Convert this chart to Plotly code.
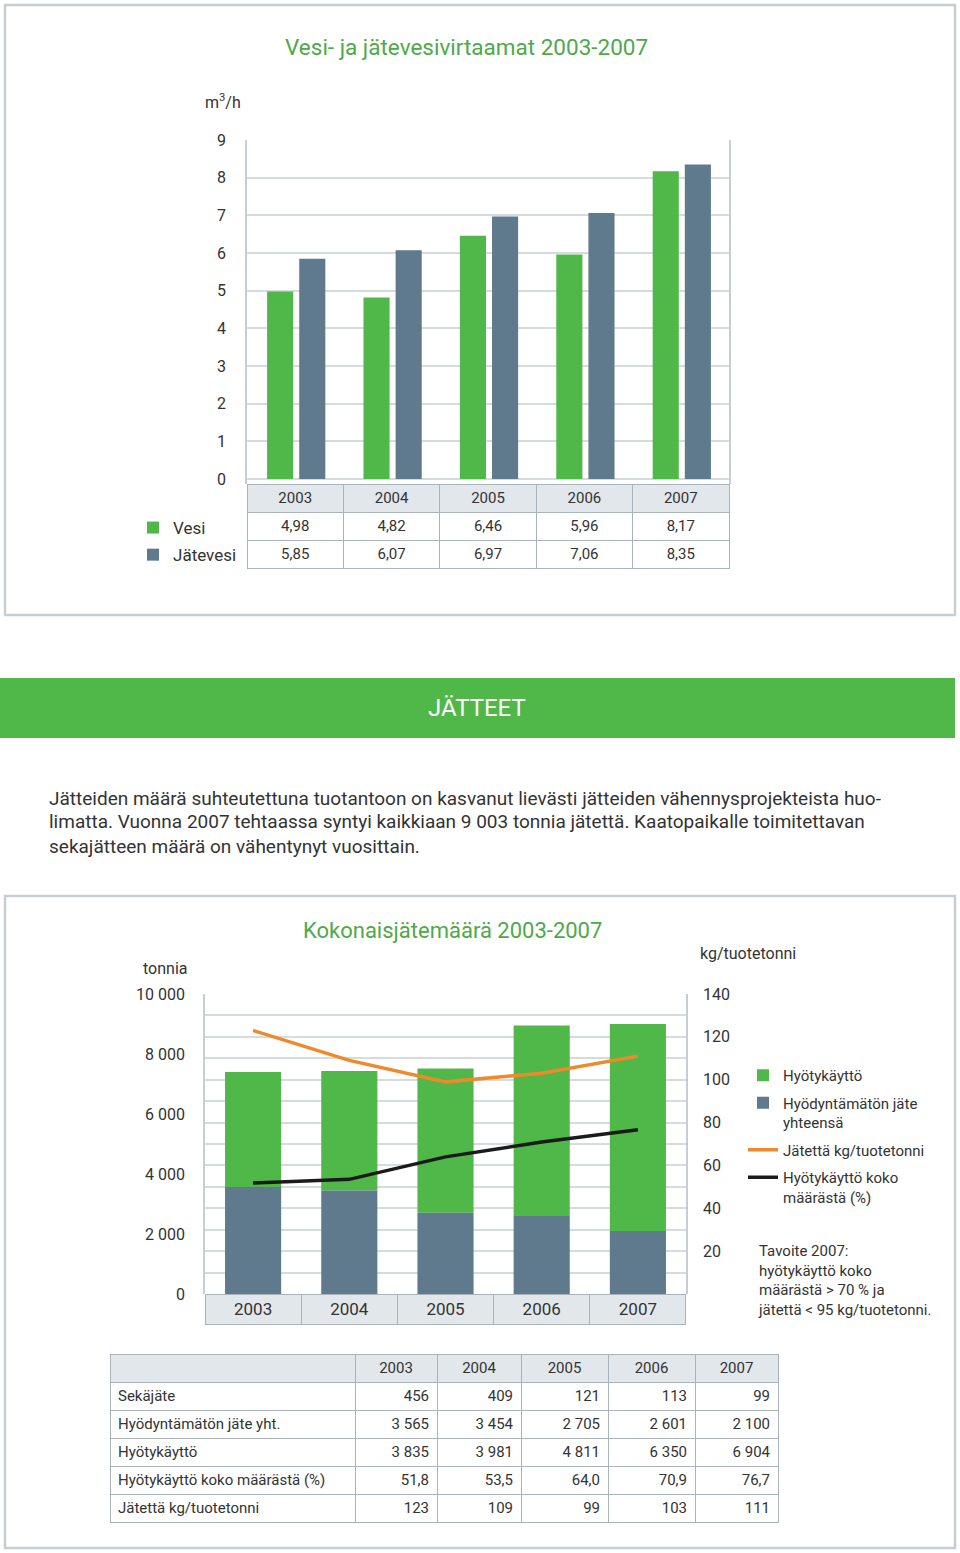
import plotly.graph_objects as go

# ---------------- data ----------------
years = ["2003", "2004", "2005", "2006", "2007"]
vesi = [4.98, 4.82, 6.46, 5.96, 8.17]
jatevesi = [5.85, 6.07, 6.97, 7.06, 8.35]

sekajate = [456, 409, 121, 113, 99]
hyodyntamaton = [3565, 3454, 2705, 2601, 2100]
hyotykaytto = [3835, 3981, 4811, 6350, 6904]
hyoty_pct = [51.8, 53.5, 64.0, 70.9, 76.7]
jatetta_kg = [123, 109, 99, 103, 111]

top_yticks = list(range(0, 10))
left_yticks = [0, 2000, 4000, 6000, 8000, 10000]
right_yticks = [20, 40, 60, 80, 100, 120, 140]

paragraph = [
    "Jätteiden määrä suhteutettuna tuotantoon on kasvanut lievästi jätteiden vähennysprojekteista huo-",
    "limatta. Vuonna 2007 tehtaassa syntyi kaikkiaan 9 003 tonnia jätettä. Kaatopaikalle toimitettavan",
    "sekajätteen määrä on vähentynyt vuosittain.",
]

# ---------------- style ----------------
W, H = 960, 1553
FONT = "Roboto"
GREEN = "#50b848"
TITLE_GREEN = "#4ea94a"
SLATE = "#5f798d"
ORANGE = "#ee8a2b"
BLACK = "#1b1b1b"
TXT = "#333333"
GRID = "#d6dbe0"
FRAME = "#c6cdd4"
TBL_LINE = "#a9b3bb"
TBL_HEAD = "#e2e7eb"


def fx(x):
    return x / W


def fy(y):
    return 1 - y / H


def fmt_int(v):
    return f"{v:,}".replace(",", " ")


def fmt_dec(v, n):
    return f"{v:.{n}f}".replace(".", ",")


fig = go.Figure()

# ---------- top chart ----------
fig.add_trace(go.Bar(x=years, y=vesi, name="Vesi", marker_color=GREEN,
                     offset=-28 / 96, width=26 / 96, xaxis="x", yaxis="y",
                     legend="legend", legendgroup="a", opacity=1))
fig.add_trace(go.Bar(x=years, y=jatevesi, name="Jätevesi", marker_color=SLATE,
                     offset=4 / 96, width=26 / 96, xaxis="x", yaxis="y",
                     legend="legend", legendgroup="b", opacity=1))

fig.add_trace(go.Table(
    domain=dict(x=[fx(247), fx(729)], y=[fy(575), fy(484)]),
    header=dict(values=years, fill_color=TBL_HEAD, line_color=TBL_LINE,
                height=28, align="center", font=dict(family=FONT, size=15, color=TXT)),
    cells=dict(values=[[fmt_dec(a, 2), fmt_dec(b, 2)] for a, b in zip(vesi, jatevesi)],
               fill_color="white", line_color=TBL_LINE, height=28, align="center",
               font=dict(family=FONT, size=15, color=TXT)),
))

# ---------- bottom chart ----------
fig.add_trace(go.Bar(x=years, y=hyotykaytto, base=hyodyntamaton, name="Hyötykäyttö",
                     marker_color=GREEN, offset=-28 / 96, width=56 / 96,
                     xaxis="x2", yaxis="y2", legend="legend2", legendgroup="c", opacity=1))
fig.add_trace(go.Bar(x=years, y=hyodyntamaton, name="Hyödyntämätön jäte<br>yhteensä",
                     marker_color=SLATE, offset=-28 / 96, width=56 / 96,
                     xaxis="x2", yaxis="y2", legend="legend2", legendgroup="d", opacity=1))
fig.add_trace(go.Scatter(x=years, y=jatetta_kg, name="Jätettä kg/tuotetonni", mode="lines",
                         line=dict(color=ORANGE, width=3.5), xaxis="x2", yaxis="y3",
                         legend="legend2", legendgroup="e"))
fig.add_trace(go.Scatter(x=years, y=hyoty_pct, name="Hyötykäyttö koko<br>määrästä (%)", mode="lines",
                         line=dict(color=BLACK, width=3.5), xaxis="x2", yaxis="y3",
                         legend="legend2", legendgroup="f"))

fig.add_trace(go.Table(
    domain=dict(x=[fx(205), fx(686)], y=[fy(1340), fy(1294)]),
    header=dict(values=years, fill_color=TBL_HEAD, line_color=TBL_LINE,
                height=30, align="center", font=dict(family=FONT, size=17, color=TXT)),
    cells=dict(values=[[] for _ in years], height=0),
))

# ---------- bottom table ----------
row_labels = ["Sekäjäte", "Hyödyntämätön jäte yht.", "Hyötykäyttö",
              "Hyötykäyttö koko määrästä (%)", "Jätettä kg/tuotetonni"]
cols = [row_labels]
for i in range(len(years)):
    cols.append([fmt_int(sekajate[i]), fmt_int(hyodyntamaton[i]), fmt_int(hyotykaytto[i]),
                 fmt_dec(hyoty_pct[i], 1), fmt_int(jatetta_kg[i])])
fig.add_trace(go.Table(
    domain=dict(x=[fx(110), fx(778)], y=[fy(1530), fy(1354)]),
    columnwidth=[245, 82, 84, 87, 87, 83],
    header=dict(values=[""] + years, fill_color=TBL_HEAD, line_color=TBL_LINE, height=28,
                align=["left"] + ["center"] * 5, font=dict(family=FONT, size=15, color=TXT)),
    cells=dict(values=cols, fill_color="white", line_color=TBL_LINE, height=28,
               align=["left"] + ["right"] * 5, font=dict(family=FONT, size=15, color=TXT)),
))

axis_font = dict(family=FONT, size=16, color=TXT)

fig.update_layout(
    template="none",
    width=W, height=H, autosize=False,
    margin=dict(l=0, r=0, t=0, b=0, pad=0, autoexpand=False),
    paper_bgcolor="white", plot_bgcolor="white",
    barmode="overlay", separators=", ",
    font=dict(family=FONT, color=TXT),
    xaxis=dict(type="category", domain=[fx(247), fx(729)], anchor="y", range=[-0.5, 4.5],
               automargin=False, showticklabels=False, showgrid=False, zeroline=False,
               showline=False),
    yaxis=dict(domain=[fy(484), fy(140)], anchor="x", range=[-0.133, 9], automargin=False,
               tickvals=top_yticks, showgrid=True, gridcolor=GRID, gridwidth=1.5,
               zeroline=False, showline=True, mirror=True, linecolor=FRAME, linewidth=1.5,
               ticks="outside", ticklen=16, tickcolor="rgba(0,0,0,0)", tickfont=axis_font),
    xaxis2=dict(type="category", domain=[fx(205), fx(686)], anchor="y2", range=[-0.5, 4.5],
                automargin=False, showticklabels=False, showgrid=False, zeroline=False,
                showline=False),
    yaxis2=dict(domain=[fy(1294), fy(994)], anchor="x2", range=[0, 10000], automargin=False,
                tickvals=left_yticks, tickformat=",d", showgrid=False, zeroline=False,
                showline=True, linecolor=FRAME, linewidth=1.5,
                ticks="outside", ticklen=15, tickcolor="rgba(0,0,0,0)", tickfont=axis_font),
    yaxis3=dict(overlaying="y2", side="right", anchor="x2", range=[0, 140], automargin=False,
                tickvals=right_yticks, showgrid=True, gridcolor=GRID, gridwidth=1.5,
                minor=dict(tick0=0, dtick=10, showgrid=True, gridcolor=GRID, gridwidth=1.5),
                zeroline=False, showline=True, linecolor=FRAME, linewidth=1.5,
                ticks="outside", ticklen=12, tickcolor="rgba(0,0,0,0)", tickfont=axis_font),
    legend=dict(x=fx(133), y=fy(510), xanchor="left", yanchor="top",
                font=dict(family=FONT, size=17, color=TXT), tracegroupgap=2,
                bgcolor="rgba(0,0,0,0)", borderwidth=0),
    legend2=dict(x=fx(743), y=fy(1059), xanchor="left", yanchor="top",
                 font=dict(family=FONT, size=15, color=TXT), tracegroupgap=5,
                 bgcolor="rgba(0,0,0,0)", borderwidth=0, valign="top"),
    showlegend=True,
)

shapes = [
    dict(type="rect", xref="paper", yref="paper", x0=fx(5), x1=fx(955), y0=fy(615), y1=fy(5),
         line=dict(color=FRAME, width=2.5), layer="below"),
    dict(type="rect", xref="paper", yref="paper", x0=fx(5), x1=fx(955), y0=fy(1548), y1=fy(896),
         line=dict(color=FRAME, width=2.5), layer="below"),
    dict(type="rect", xref="paper", yref="paper", x0=0, x1=fx(955), y0=fy(738), y1=fy(678),
         fillcolor=GREEN, line=dict(width=0), layer="below"),
]
fig.update_layout(shapes=shapes)

ann = [
    dict(text="Vesi- ja jätevesivirtaamat 2003-2007", x=fx(466), y=fy(47), xanchor="center",
         yanchor="middle", font=dict(family=FONT, size=22.5, color=TITLE_GREEN)),
    dict(text="m<sup>3</sup>/h", x=fx(203), y=fy(101), xanchor="left", yanchor="middle",
         font=dict(family=FONT, size=16, color=TXT)),
    dict(text="JÄTTEET", x=fx(477), y=fy(708), xanchor="center", yanchor="middle",
         font=dict(family=FONT, size=24, color="white")),
    dict(text="Kokonaisjätemäärä 2003-2007", x=fx(452), y=fy(930), xanchor="center",
         yanchor="middle", font=dict(family=FONT, size=22, color=TITLE_GREEN)),
    dict(text="tonnia", x=fx(141), y=fy(968), xanchor="left", yanchor="middle",
         font=dict(family=FONT, size=16, color=TXT)),
    dict(text="kg/tuotetonni", x=fx(698), y=fy(953), xanchor="left", yanchor="middle",
         font=dict(family=FONT, size=16, color=TXT)),
    dict(text="Tavoite 2007:<br>hyötykäyttö koko<br>määrästä &gt; 70 % ja<br>jätettä &lt; 95 kg/tuotetonni.",
         x=fx(756), y=fy(1240), xanchor="left", yanchor="top", align="left",
         font=dict(family=FONT, size=15, color=TXT)),
]
for i, line in enumerate(paragraph):
    ann.append(dict(text=line, x=fx(47), y=fy(798 + 24 * i), xanchor="left", yanchor="middle",
                    align="left", font=dict(family=FONT, size=19, color=TXT)))
for a in ann:
    a.update(xref="paper", yref="paper", showarrow=False)
fig.update_layout(annotations=ann)

post = (
    "document.documentElement.style.margin='0';"
    "document.body.style.margin='0';"
    "document.body.style.padding='0';"
    "var d=document.getElementsByClassName('plotly-graph-div')[0];"
    "d.style.position='absolute';d.style.top='0px';d.style.left='0px';"
)
fig.write_html("out.html", config={"displayModeBar": False}, post_script=post)
